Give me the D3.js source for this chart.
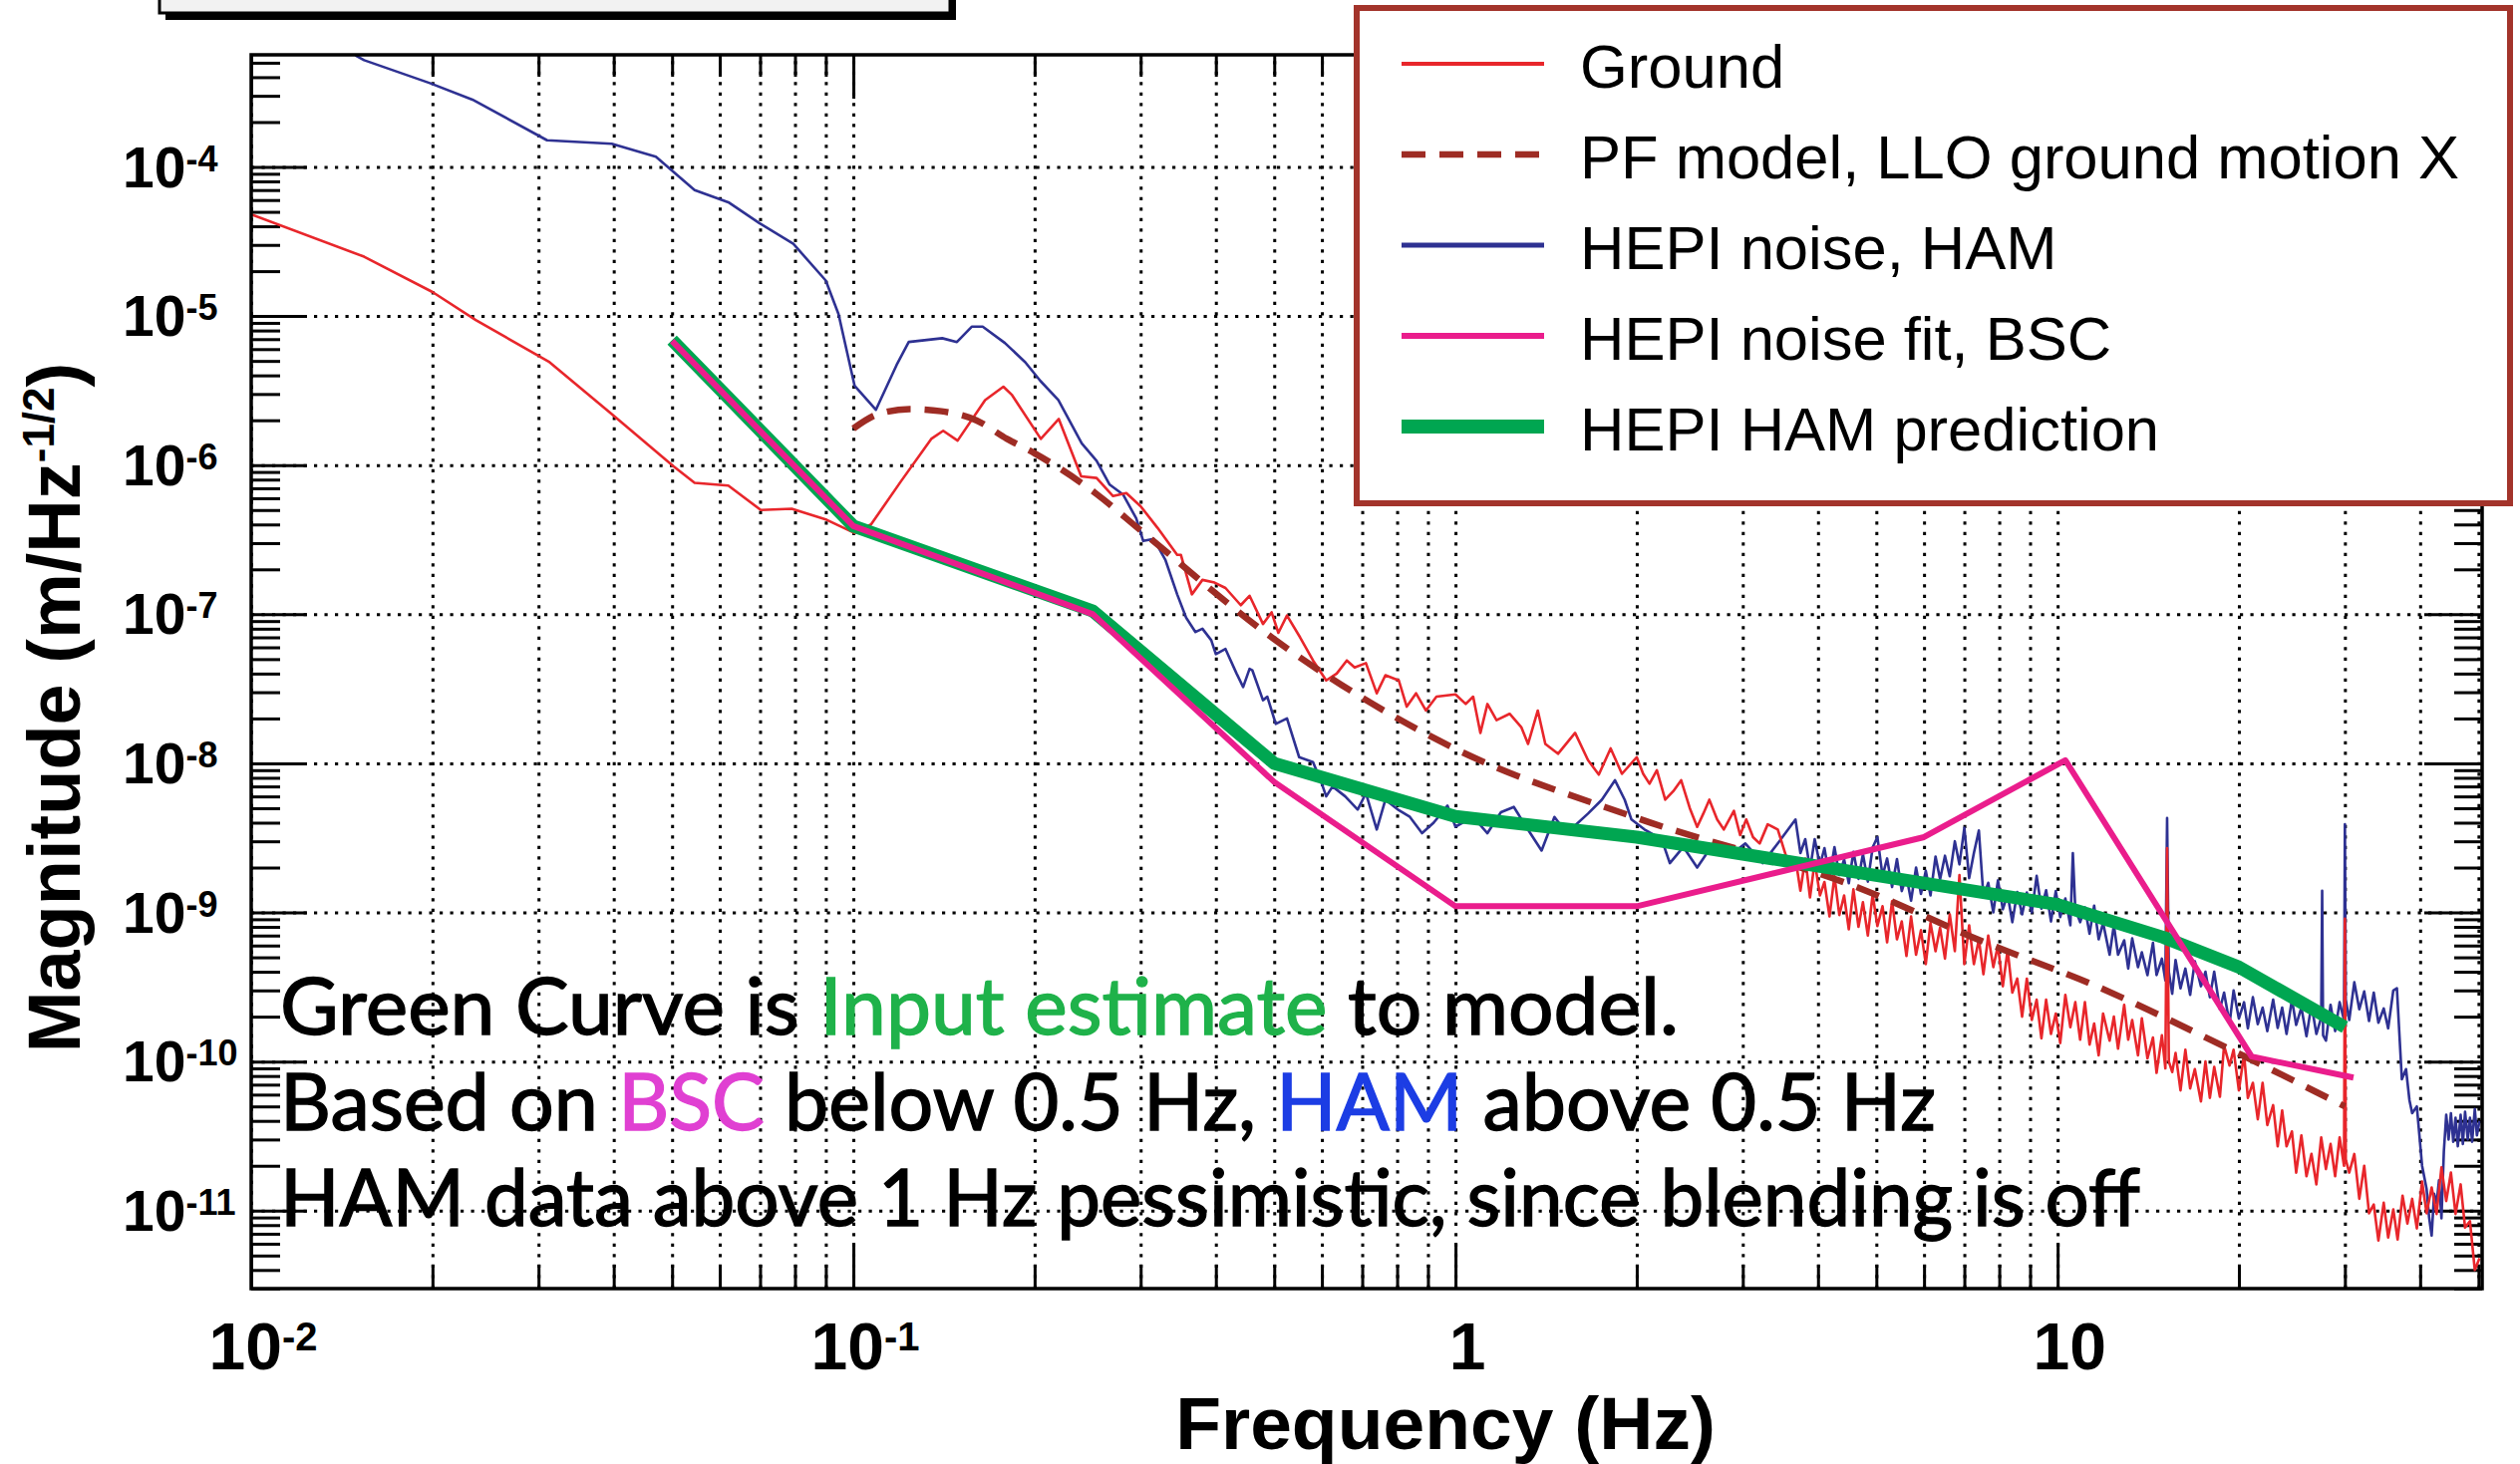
<!DOCTYPE html>
<html><head><meta charset="utf-8">
<script src="https://cdn.jsdelivr.net/npm/d3@7"></script>
<style>html,body{margin:0;padding:0;background:#fff;}svg{display:block;}</style>
</head><body>
<svg id="c" width="2528" height="1469"></svg>
<script>
// ---------------- data ----------------
const xMajorTicks = [0.01, 0.1, 1, 10];
const xTickBase = ["10", "10", "1", "10"];
const xTickExp = ["-2", "-1", "", ""];
const yMajorTicks = [1e-4, 1e-5, 1e-6, 1e-7, 1e-8, 1e-9, 1e-10, 1e-11];
const yTickExp = ["-4", "-5", "-6", "-7", "-8", "-9", "-10", "-11"];

const ground = [
 [0.01,4.8e-5],[0.0154,2.5e-5],[0.02,1.45e-5],[0.0236,9.4e-6],[0.0313,4.9e-6],[0.0397,2.2e-6],[0.0503,9.8e-7],
 [0.0545,7.6e-7],[0.062,7.3e-7],[0.0702,5.0e-7],[0.079,5.1e-7],[0.0903,4.3e-7],[0.1005,3.5e-7],[0.107,4.0e-7],
 [0.12,7.8e-7],[0.1347,1.5e-6],[0.141,1.7e-6],[0.149,1.46e-6],[0.1655,2.73e-6],[0.1775,3.36e-6],[0.1835,2.95e-6],
 [0.2048,1.5e-6],[0.2194,2.04e-6],[0.239,8.4e-7],[0.2535,8.2e-7],[0.27,6.2e-7],[0.284,6.5e-7],[0.3,5.3e-7],
 [0.32,3.8e-7],[0.345,2.5e-7],[0.35,2.5e-7],[0.365,1.36e-7],[0.38,1.7e-7],[0.398,1.63e-7],[0.415,1.5e-7],
 [0.44,1.15e-7],[0.455,1.33e-7],[0.479,8.6e-8],[0.495,1.03e-7],[0.508,7.5e-8],[0.525,9.8e-8],[0.552,7.0e-8],
 [0.58,4.9e-8],[0.61,3.6e-8],[0.635,4.0e-8],[0.66,4.9e-8],[0.68,4.4e-8],[0.71,4.7e-8],[0.74,2.95e-8],
 [0.765,3.9e-8],[0.805,3.6e-8],[0.83,2.4e-8],[0.86,2.95e-8],[0.893,2.26e-8],[0.93,2.8e-8],[1.0,2.9e-8],
 [1.04,2.5e-8],[1.07,2.8e-8],[1.1,1.6e-8],[1.13,2.5e-8],[1.17,1.95e-8],[1.23,2.15e-8],[1.286,1.75e-8],
 [1.32,1.35e-8],[1.37,2.26e-8],[1.41,1.35e-8],[1.48,1.16e-8],[1.58,1.6e-8],[1.66,1.05e-8],[1.73,8.4e-9],
 [1.81,1.26e-8],[1.89,8.5e-9],[2.0,1.1e-8],[2.05,8.5e-9],[2.1,7.3e-9],[2.16,9.0e-9],[2.23,5.7e-9],[2.3,6.5e-9],
 [2.37,7.7e-9],[2.45,5.0e-9],[2.52,3.75e-9],[2.58,4.6e-9],[2.64,5.7e-9],[2.72,4.2e-9],[2.79,3.6e-9],[2.9,4.8e-9],
 [2.97,3.3e-9],[3.04,4.2e-9],[3.12,3.2e-9],[3.2,2.9e-9],[3.3,3.9e-9],[3.43,3.6e-9],[3.55,2.3e-9],
 [3.67,2.3e-9],[3.74,1.4e-9],[3.81,2.3e-9],[3.88,1.26e-9],[3.95,2.2e-9],[4.03,1.3e-9],[4.10,1.6e-9],[4.18,9.4e-10],
 [4.26,1.75e-9],[4.34,9.6e-10],[4.42,1.3e-9],[4.50,7.7e-10],[4.58,1.43e-9],[4.67,8.0e-10],[4.75,1.17e-9],[4.84,7.0e-10],
 [4.93,1.32e-9],[5.02,8.1e-10],[5.12,1.1e-9],[5.21,6.3e-10],[5.31,1.19e-9],[5.41,6.6e-10],[5.51,8.7e-10],[5.61,5.1e-10],
 [5.71,9.4e-10],[5.82,5.2e-10],[5.93,7.6e-10],[6.04,4.5e-10],[6.15,8.5e-10],[6.27,5.5e-10],[6.38,7.9e-10],[6.50,4.9e-10],
 [6.62,9.7e-10],[6.75,5.5e-10],[6.87,1.78e-9],[7.00,4.5e-10],[7.13,8.2e-10],[7.26,4.5e-10],[7.40,6.6e-10],[7.53,3.85e-10],
 [7.67,7.0e-10],[7.82,4.3e-10],[7.96,6.0e-10],[8.11,3.2e-10],[8.26,5.6e-10],[8.41,2.9e-10],[8.57,3.6e-10],[8.73,2.0e-10],
 [8.89,3.6e-10],[9.06,1.9e-10],[9.23,2.6e-10],[9.40,1.43e-10],[9.57,2.6e-10],[9.75,1.53e-10],[9.93,2.1e-10],[10.1,1.33e-10],
 [10.3,2.8e-10],[10.5,1.7e-10],[10.7,2.5e-10],[10.9,1.4e-10],[11.1,2.5e-10],[11.3,1.3e-10],[11.5,1.8e-10],[11.7,1.1e-10],
 [11.9,2.1e-10],[12.2,1.38e-10],[12.4,2.0e-10],[12.6,1.22e-10],[12.9,2.4e-10],[13.1,1.4e-10],[13.3,1.9e-10],[13.6,1.1e-10],
 [13.8,1.95e-10],[14.1,1.05e-10],[14.4,1.45e-10],[14.6,8.4e-11],[14.9,1.5e-10],[15.1,9.0e-11],[15.2,2.7e-9],[15.3,1.0e-10],
 [15.5,8.5e-11],[15.7,1.14e-10],[16.0,6.4e-11],[16.3,1.2e-10],[16.6,6.6e-11],[16.9,8.9e-11],[17.3,5.4e-11],[17.6,1.0e-10],
 [17.9,5.7e-11],[18.2,9.2e-11],[18.6,5.8e-11],[18.9,1.28e-10],[19.3,9.4e-11],[19.6,1.2e-10],[20.0,6.4e-11],[20.4,1.12e-10],
 [20.7,5.7e-11],[21.1,7.2e-11],[21.5,4.1e-11],[21.9,7.2e-11],[22.3,3.75e-11],[22.8,5.1e-11],[23.2,2.7e-11],[23.6,4.7e-11],
 [24.0,2.7e-11],[24.5,3.4e-11],[24.9,1.8e-11],[25.4,3.2e-11],[25.9,1.7e-11],[26.4,2.4e-11],[26.9,1.5e-11],[27.4,3.1e-11],
 [27.9,1.9e-11],[28.4,2.8e-11],[28.9,1.7e-11],[29.4,3.1e-11],[29.9,2.0e-11],[30.0,9.1e-10],[30.1,2.2e-11],[30.5,1.8e-11],
 [31.1,2.4e-11],[31.7,1.2e-11],[32.3,2.0e-11],[32.9,9.6e-12],[33.5,1.1e-11],[34.1,6.3e-12],[34.8,1.13e-11],[35.4,6.6e-12],
 [36.1,1.02e-11],[36.7,6.4e-12],[37.4,1.26e-11],[38.1,8.2e-12],[38.8,1.2e-11],[39.5,7.6e-12],[40.3,1.57e-11],[41.0,9.6e-12],
 [41.8,1.43e-11],[42.6,9.5e-12],[43.4,1.95e-11],[44.2,1.16e-11],[45.0,1.8e-11],[45.8,9.5e-12],[46.7,1.5e-11],[47.5,7.7e-12],
 [48.4,8.5e-12],[49.3,4.0e-12],[50.2,4.8e-12]
];

const pfModel = [
 [0.1,1.76e-6],[0.11,2.2e-6],[0.124,2.38e-6],[0.14,2.3e-6],[0.16,2.0e-6],[0.18,1.5e-6],[0.2,1.2e-6],
 [0.2535,6.4e-7],[0.3,3.65e-7],[0.5,6.8e-8],[1,1.25e-8],[2,4.3e-9],[4.7,1.45e-9],[7.57,6.3e-10],
 [11.4,3.3e-10],[19,1.25e-10],[30,5.0e-11]
];

const hepiHam = [
 [0.0149,5.6e-4],[0.0154,5.2e-4],[0.0198,3.65e-4],[0.0233,2.83e-4],[0.031,1.51e-4],[0.0397,1.43e-4],[0.047,1.17e-4],
 [0.0545,7.0e-5],[0.062,5.8e-5],[0.0698,4.2e-5],[0.0795,3.05e-5],[0.09,1.73e-5],[0.0945,1.03e-5],[0.1005,3.4e-6],
 [0.109,2.35e-6],[0.118,4.7e-6],[0.1236,6.7e-6],[0.1405,7.1e-6],[0.1486,6.7e-6],[0.1574,8.5e-6],[0.164,8.5e-6],
 [0.1785,6.6e-6],[0.193,4.9e-6],[0.2045,3.67e-6],[0.219,2.73e-6],[0.2395,1.4e-6],[0.2535,1.07e-6],[0.2665,7.4e-7],
 [0.2805,6.35e-7],[0.295,4.4e-7],[0.303,3.1e-7],[0.3155,3.2e-7],[0.33,2.3e-7],[0.345,1.36e-7],[0.357,9.5e-8],
 [0.37,7.6e-8],[0.38,8.0e-8],[0.393,6.7e-8],[0.40,5.4e-8],[0.415,5.85e-8],[0.433,4.0e-8],[0.444,3.25e-8],
 [0.455,4.3e-8],[0.46,4.2e-8],[0.479,2.65e-8],[0.487,2.8e-8],[0.503,1.84e-8],[0.525,2.0e-8],[0.55,1.1e-8],
 [0.58,1.02e-8],[0.597,7.7e-9],[0.61,6.0e-9],[0.625,7.0e-9],[0.656,6.0e-9],[0.688,4.9e-9],[0.71,6.3e-9],
 [0.74,3.6e-9],[0.765,5.7e-9],[0.805,4.85e-9],[0.84,4.37e-9],[0.88,3.4e-9],[0.92,4.0e-9],[0.97,5.2e-9],
 [1.0,3.76e-9],[1.07,4.37e-9],[1.13,3.4e-9],[1.19,4.7e-9],[1.25,5.1e-9],[1.31,3.76e-9],[1.39,2.6e-9],
 [1.46,4.37e-9],[1.53,3.4e-9],[1.66,4.6e-9],[1.75,5.7e-9],[1.84,7.7e-9],[1.91,5.7e-9],[1.96,4.2e-9],
 [2.06,3.6e-9],[2.2,3.1e-9],[2.27,2.14e-9],[2.39,2.75e-9],[2.52,2.0e-9],[2.65,2.7e-9],[2.84,2.37e-9],
 [3.03,2.9e-9],[3.24,2.14e-9],[3.45,3.0e-9],
 [3.67,4.2e-9],[3.74,2.5e-9],[3.81,3.1e-9],[3.88,1.95e-9],[3.95,3.1e-9],[4.03,2.07e-9],[4.10,2.7e-9],[4.18,1.72e-9],
 [4.26,2.74e-9],[4.34,1.78e-9],[4.42,2.27e-9],[4.50,1.57e-9],[4.58,2.55e-9],[4.67,1.68e-9],[4.75,2.46e-9],[4.84,1.61e-9],
 [4.93,2.73e-9],[5.02,3.2e-9],[5.12,1.76e-9],[5.21,2.3e-9],[5.31,1.48e-9],[5.41,2.28e-9],[5.51,1.39e-9],[5.61,1.75e-9],
 [5.71,1.2e-9],[5.82,2.0e-9],[5.93,1.33e-9],[6.04,1.9e-9],[6.15,1.3e-9],[6.27,2.37e-9],[6.38,1.67e-9],[6.50,2.4e-9],
 [6.62,1.75e-9],[6.75,3.0e-9],[6.87,2.1e-9],[7.00,3.7e-9],[7.13,1.7e-9],[7.26,2.5e-9],[7.40,3.55e-9],[7.53,1.28e-9],
 [7.67,1.58e-9],[7.82,1.0e-9],[7.96,1.64e-9],[8.11,1.05e-9],[8.26,1.32e-9],[8.41,8.6e-10],[8.57,1.37e-9],[8.73,9.7e-10],
 [8.89,1.36e-9],[9.06,1.0e-9],[9.23,1.76e-9],[9.40,1.06e-9],[9.57,1.41e-9],[9.75,8.7e-10],[9.93,1.39e-9],[10.1,9.3e-10],
 [10.3,1.24e-9],[10.5,8.2e-10],[10.6,2.5e-9],[10.7,1.05e-9],[10.9,8.6e-10],[11.1,1.08e-9],[11.3,7.2e-10],[11.5,1.11e-9],
 [11.7,6.6e-10],[11.9,8.5e-10],[12.2,5.2e-10],[12.4,8.2e-10],[12.6,5.2e-10],[12.9,6.5e-10],[13.1,4.2e-10],[13.3,6.7e-10],
 [13.6,4.3e-10],[13.8,5.4e-10],[14.1,3.8e-10],[14.4,6.25e-10],[14.6,3.8e-10],[14.9,4.9e-10],[15.1,3.5e-10],[15.2,4.3e-9],
 [15.3,4.0e-10],[15.5,2.85e-10],[15.7,4.8e-10],[16.0,3.1e-10],[16.3,4.2e-10],[16.6,2.8e-10],[16.9,4.7e-10],[17.3,3.2e-10],
 [17.6,4.0e-10],[17.9,2.7e-10],[18.2,4.0e-10],[18.6,2.24e-10],[18.9,2.9e-10],[19.3,1.8e-10],[19.6,3.0e-10],[20.0,1.94e-10],
 [20.4,2.5e-10],[20.7,1.67e-10],[21.1,2.7e-10],[21.5,1.78e-10],[21.9,2.3e-10],[22.3,1.6e-10],[22.8,2.6e-10],[23.2,1.68e-10],
 [23.6,2.3e-10],[24.0,1.53e-10],[24.5,2.6e-10],[24.9,1.76e-10],[25.4,2.3e-10],[25.9,1.48e-10],[26.4,2.4e-10],[26.9,1.53e-10],
 [27.4,1.97e-10],[27.5,1.4e-9],[27.6,1.5e-10],[27.9,1.38e-10],[28.4,2.4e-10],[28.9,1.6e-10],[29.4,2.5e-10],[29.9,1.9e-10],
 [30.0,3.9e-9],[30.1,2.6e-10],[30.5,1.9e-10],[31.1,3.4e-10],[31.7,2.24e-10],[32.3,2.95e-10],[32.9,1.87e-10],[33.5,2.9e-10],
 [34.1,1.82e-10],[34.8,2.27e-10],[35.4,1.67e-10],[36.1,3.0e-10],[36.6,3.1e-10],[37.3,7.6e-11],[37.9,8.9e-11],[38.4,5.5e-11],
 [38.8,4.5e-11],[39.5,5.0e-11],[40.3,2.0e-11],[41.0,1.4e-11],[41.4,9.0e-12],[41.8,6.8e-12],[42.2,1.3e-11],[42.6,1.12e-11],
 [43.0,1.6e-11],[43.4,8.9e-12],[43.8,2.5e-11],[44.2,4.4e-11],[44.6,3.0e-11],[45.0,4.5e-11],[45.4,2.9e-11],[45.8,4.2e-11],
 [46.2,2.7e-11],[46.7,4.4e-11],[47.1,2.8e-11],[47.5,4.6e-11],[48.0,3.0e-11],[48.4,4.2e-11],[48.8,2.9e-11],[49.3,4.8e-11],
 [49.7,3.2e-11],[50.2,4.0e-11]
];

const hepiBscFit = [
 [0.05,6.8e-6],[0.1,3.9e-7],[0.25,1.0e-7],[0.5,7.5e-9],[1,1.1e-9],[2,1.1e-9],[6,3.2e-9],[10.3,1.05e-8],
 [21,1.08e-10],[31,7.8e-11]
];

const hepiHamPrediction = [
 [0.05,6.9e-6],[0.1,3.9e-7],[0.25,1.05e-7],[0.5,1.0e-8],[1,4.4e-9],[2,3.2e-9],[10,1.13e-9],[15,6.8e-10],
 [20,4.3e-10],[30,1.7e-10]
];

const legendLabels = ["Ground", "PF model, LLO ground motion X", "HEPI noise, HAM", "HEPI noise fit, BSC", "HEPI HAM prediction"];
const noteLines = [
 [["Green Curve is ","k"],["Input estimate","g"],[" to model.","k"]],
 [["Based on ","k"],["BSC","m"],[" below 0.5 Hz, ","k"],["HAM","b"],[" above 0.5 Hz","k"]],
 [["HAM data above 1 Hz pessimistic, since blending is off","k"]]
];
const xTitle = "Frequency (Hz)";
const yTitle = ["Magnitude (m/Hz", "-1/2", ")"];

// ---------------- drawing ----------------
const svg = d3.select("#c");
const L = 252, R = 2490, T = 55, B = 1293;
const x = d3.scaleLog().domain([0.01, 50.7]).range([L, R]);
const y = d3.scaleLog().domain([3e-12, 5.65e-4]).range([B, T]);
const SANS = "'Liberation Sans', Arial, Helvetica, sans-serif";

// top-left partial box
svg.append("rect").attr("x",166).attr("y",-20).attr("width",793).attr("height",40).attr("fill","#000");
svg.append("rect").attr("x",160).attr("y",-20).attr("width",793).attr("height",33).attr("fill","#f2f2f2").attr("stroke","#000").attr("stroke-width",3);

// minor tick values
const xMinor = [], yMinor = [];
for (let e = -2; e <= 1; e++) for (let m = 2; m <= 9; m++) { const v = m * Math.pow(10, e); if (v <= 50.7) xMinor.push(v); }
for (let e = -12; e <= -4; e++) for (let m = 2; m <= 9; m++) { const v = m * Math.pow(10, e); if (v >= 3e-12 && v <= 5.65e-4) yMinor.push(v); }
const xAll = xMajorTicks.concat(xMinor);

function styleGrid(g) {
  g.select(".domain").remove();
  g.selectAll("line").attr("stroke", "#000").attr("stroke-width", 3).attr("stroke-dasharray", "3.2,7.3");
}
svg.append("g").attr("transform", `translate(0,${B})`)
  .call(d3.axisBottom(x).tickValues(xAll).tickSize(-(B - T)).tickFormat(""))
  .call(styleGrid);
svg.append("g").attr("transform", `translate(${L},0)`)
  .call(d3.axisLeft(y).tickValues(yMajorTicks).tickSize(-(R - L)).tickFormat(""))
  .call(styleGrid);

function styleTicks(g) {
  g.select(".domain").remove();
  g.selectAll("line").attr("stroke", "#000").attr("stroke-width", 3);
}
svg.append("g").attr("transform", `translate(0,${B})`).call(d3.axisBottom(x).tickValues(xMinor).tickSize(-24).tickFormat("")).call(styleTicks);
svg.append("g").attr("transform", `translate(0,${B})`).call(d3.axisBottom(x).tickValues(xMajorTicks).tickSize(-46).tickFormat("")).call(styleTicks);
svg.append("g").attr("transform", `translate(0,${T})`).call(d3.axisTop(x).tickValues(xMinor).tickSize(-22).tickFormat("")).call(styleTicks);
svg.append("g").attr("transform", `translate(0,${T})`).call(d3.axisTop(x).tickValues(xMajorTicks).tickSize(-44).tickFormat("")).call(styleTicks);
svg.append("g").attr("transform", `translate(${L},0)`).call(d3.axisLeft(y).tickValues(yMinor).tickSize(-29).tickFormat("")).call(styleTicks);
svg.append("g").attr("transform", `translate(${L},0)`).call(d3.axisLeft(y).tickValues(yMajorTicks).tickSize(-56).tickFormat("")).call(styleTicks);
svg.append("g").attr("transform", `translate(${R},0)`).call(d3.axisRight(y).tickValues(yMinor).tickSize(-28).tickFormat("")).call(styleTicks);
svg.append("g").attr("transform", `translate(${R},0)`).call(d3.axisRight(y).tickValues(yMajorTicks).tickSize(-58).tickFormat("")).call(styleTicks);

// data
svg.append("clipPath").attr("id", "clip").append("rect").attr("x", L).attr("y", T).attr("width", R - L).attr("height", B - T);
const plot = svg.append("g").attr("clip-path", "url(#clip)");
const line = d3.line().x(d => x(d[0])).y(d => y(d[1]));
const smooth = d3.line().x(d => x(d[0])).y(d => y(d[1])).curve(d3.curveMonotoneX);

const C = { red: "#e8262b", pf: "#9e2c24", blue: "#2e3192", mag: "#ea1d8c", green: "#00a651" };
plot.append("path").datum(hepiHam).attr("d", line).attr("fill", "none").attr("stroke", C.blue).attr("stroke-width", 2.6).attr("stroke-linejoin", "round");
plot.append("path").datum(ground).attr("d", line).attr("fill", "none").attr("stroke", C.red).attr("stroke-width", 2.6).attr("stroke-linejoin", "round");
plot.append("path").datum(pfModel).attr("d", smooth).attr("fill", "none").attr("stroke", C.pf).attr("stroke-width", 6.5).attr("stroke-dasharray", "24,14");
plot.append("path").datum(hepiHamPrediction).attr("d", line).attr("fill", "none").attr("stroke", C.green).attr("stroke-width", 13).attr("stroke-linejoin", "round");
plot.append("path").datum(hepiBscFit).attr("d", line).attr("fill", "none").attr("stroke", C.mag).attr("stroke-width", 6).attr("stroke-linejoin", "round");

// frame
svg.append("rect").attr("x", L).attr("y", T).attr("width", R - L).attr("height", B - T).attr("fill", "none").attr("stroke", "#000").attr("stroke-width", 3.5);

// y tick labels
yMajorTicks.forEach((v, i) => {
  const t = svg.append("text").attr("x", 123).attr("y", y(v) + 20).attr("font-family", SANS).attr("font-weight", "bold").attr("font-size", 57).attr("fill", "#000");
  t.append("tspan").text("10");
  t.append("tspan").attr("font-size", 36).attr("dy", -16).text(yTickExp[i]);
});
// x tick labels
xMajorTicks.forEach((v, i) => {
  const t = svg.append("text").attr("x", x(v) + 12).attr("y", 1374).attr("text-anchor", "middle").attr("font-family", SANS).attr("font-weight", "bold").attr("font-size", 66).attr("fill", "#000");
  t.append("tspan").text(xTickBase[i]);
  if (xTickExp[i]) t.append("tspan").attr("font-size", 40).attr("dy", -19).text(xTickExp[i]);
});

// axis titles
svg.append("text").attr("x", 1450).attr("y", 1454).attr("text-anchor", "middle").attr("font-family", SANS).attr("font-weight", "bold").attr("font-size", 75).text(xTitle);
const yt = svg.append("text").attr("transform", "translate(80,710) rotate(-90)").attr("text-anchor", "middle").attr("font-family", SANS).attr("font-weight", "bold").attr("font-size", 74);
yt.append("tspan").text(yTitle[0]);
yt.append("tspan").attr("font-size", 44).attr("dy", -26).text(yTitle[1]);
yt.append("tspan").attr("dy", 26).text(yTitle[2]);

// legend
svg.append("rect").attr("x", 1361).attr("y", 8).attr("width", 1157).attr("height", 497).attr("fill", "#fff").attr("stroke", "#a3342b").attr("stroke-width", 6);
const legStyles = [
  { c: C.red, w: 4, d: null },
  { c: C.pf, w: 6.5, d: "24,14" },
  { c: C.blue, w: 5, d: null },
  { c: C.mag, w: 6, d: null },
  { c: C.green, w: 14, d: null }
];
const legY = [64, 155, 246, 337, 428];
legendLabels.forEach((lab, i) => {
  const s = legStyles[i];
  const ln = svg.append("line").attr("x1", 1406).attr("x2", 1549).attr("y1", legY[i]).attr("y2", legY[i]).attr("stroke", s.c).attr("stroke-width", s.w);
  if (s.d) ln.attr("stroke-dasharray", s.d);
  svg.append("text").attr("x", 1585).attr("y", legY[i] + 24).attr("font-family", SANS).attr("font-size", 61.5).attr("fill", "#000").text(lab);
});

// annotation
const noteColor = { k: "#000", g: "#1fb24a", m: "#e040d2", b: "#1c3de4" };
const noteY = [1038, 1134, 1230];
const noteW = [1403, 1661, 1866];
noteLines.forEach((segs, i) => {
  const t = svg.append("text").attr("x", 281).attr("y", noteY[i]).attr("font-family", "Lato, 'Open Sans', sans-serif").attr("font-size", 80)
    .attr("textLength", noteW[i]).attr("lengthAdjust", "spacingAndGlyphs");
  segs.forEach(s => t.append("tspan").attr("fill", noteColor[s[1]]).attr("stroke", noteColor[s[1]]).attr("stroke-width", 1.4).text(s[0]));
});
</script>
</body></html>
